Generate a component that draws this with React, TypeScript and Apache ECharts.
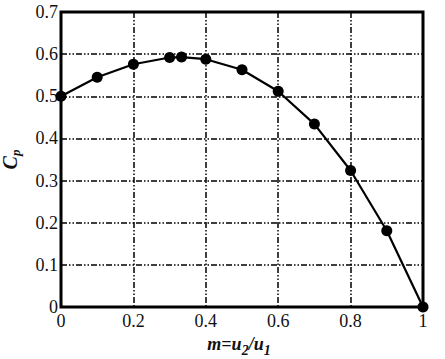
import React, { useEffect, useRef } from "react";
import * as echarts from "echarts";

const mValues = [0, 0.1, 0.2, 0.3, 0.333, 0.4, 0.5, 0.6, 0.7, 0.8, 0.9, 1];
const cpValues = [0.5, 0.545, 0.576, 0.592, 0.593, 0.588, 0.563, 0.512, 0.434, 0.324, 0.181, 0];

const serif = "'Liberation Serif', 'Times New Roman', Times, serif";

export default function App() {
  const ref = useRef<HTMLDivElement>(null);
  useEffect(() => {
    if (!ref.current) return;
    const chart = echarts.init(ref.current, undefined, { renderer: "svg" });
    const gridLine = {
      show: true,
      lineStyle: { color: "#000", width: 1.5, type: [6, 2, 1.5, 2, 1.5, 2] as any },
    };
    chart.setOption({
      animation: false,
      backgroundColor: "#fff",
      textStyle: { fontFamily: serif },
      grid: {
        left: 61,
        right: 22,
        top: 12,
        bottom: 52,
        show: true,
        borderColor: "#000",
        borderWidth: 3,
        backgroundColor: "transparent",
        outerBoundsMode: "none",
        containLabel: false,
      },
      xAxis: {
        type: "value",
        min: 0,
        max: 1,
        interval: 0.2,
        axisLine: { show: false },
        axisTick: { show: false },
        splitLine: gridLine,
        axisLabel: { color: "#111", fontFamily: serif, fontSize: 18, margin: 5 },
        name: "{i|m=u}{s|2}{i|/u}{s|1}",
        nameLocation: "middle",
        nameGap: 24,
        nameTextStyle: {
          fontFamily: serif,
          padding: [0, 6, 0, 0],
          rich: {
            i: { fontFamily: serif, fontStyle: "italic", fontWeight: "bold", fontSize: 18, color: "#111" },
            s: { fontFamily: serif, fontStyle: "italic", fontWeight: "bold", fontSize: 14, color: "#111", padding: [12, 0, 0, 0] },
          },
        },
      },
      yAxis: {
        type: "value",
        min: 0,
        max: 0.7,
        interval: 0.1,
        axisLine: { show: false },
        axisTick: { show: false },
        splitLine: gridLine,
        axisLabel: { color: "#111", fontFamily: serif, fontSize: 18, margin: 3 },
        name: "{i|C}{s|p}",
        nameLocation: "middle",
        nameRotate: 90,
        nameGap: 39,
        nameTextStyle: {
          fontFamily: serif,
          rich: {
            i: { fontFamily: serif, fontStyle: "italic", fontWeight: "bold", fontSize: 20, color: "#111" },
            s: { fontFamily: serif, fontStyle: "italic", fontWeight: "bold", fontSize: 13, color: "#111", padding: [12, 0, 0, 0] },
          },
        },
      },
      series: [
        {
          type: "line",
          data: mValues.map((m, i) => [m, cpValues[i]]),
          symbol: "circle",
          symbolSize: 11,
          itemStyle: { color: "#000" },
          lineStyle: { color: "#000", width: 2.2 },
          z: 5,
        },
      ],
    });
    return () => chart.dispose();
  }, []);
  return <div ref={ref} style={{ width: 445, height: 359, position: "absolute", left: 0, top: 0 }} />;
}
